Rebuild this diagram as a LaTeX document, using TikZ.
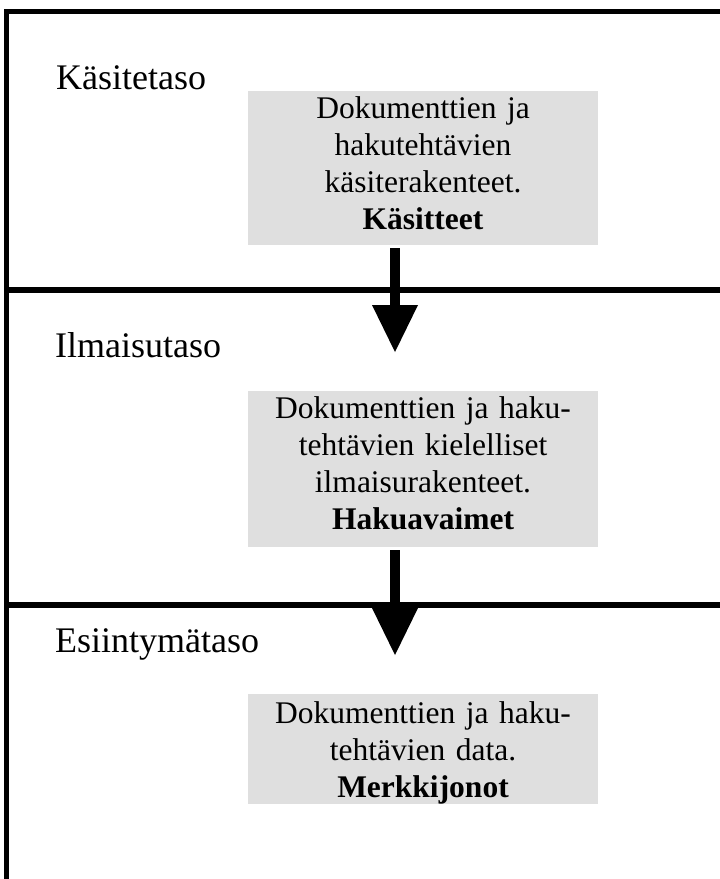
\documentclass[tikz,border=0pt]{standalone}
\usepackage{fontspec}
\setmainfont{Liberation Serif}
\usetikzlibrary{arrows.meta}
\definecolor{boxgray}{RGB}{223,223,223}
\tikzset{
  levelbox/.style={fill=boxgray, draw=none, inner sep=0pt, minimum width=350pt},
  boxtext/.style={anchor=base, inner sep=0pt, text width=350pt, align=center,
    font=\fontsize{31.5}{37}\selectfont},
  levellabel/.style={anchor=base west, inner sep=0pt, font=\fontsize{36}{40}\selectfont},
  frameline/.style={line width=5pt, line join=miter},
  divider/.style={line width=6pt},
  bigarrow/.style={line width=10pt, -{Triangle[width=46pt,length=47pt,line width=0pt]}}
}
\begin{document}
\begin{tikzpicture}[x=1pt,y=-1pt]
\useasboundingbox (0,0) rectangle (720,879);
% frame and dividers
\draw[frameline] (720,11.5) -- (6.5,11.5) -- (6.5,879);
\draw[divider] (6.5,290) -- (720,290);
\draw[divider] (6.5,605) -- (720,605);
% labels
\node[levellabel] (l1) at (56,89) {Käsitetaso};
\node[levellabel] (l2) at (55,357) {Ilmaisutaso};
\node[levellabel] (l3) at (55,652) {Esiintymätaso};
% boxes
\node[levelbox, minimum height=154pt] (b1) at (423,168) {};
\node[levelbox, minimum height=156pt] (b2) at (423,469) {};
\node[levelbox, minimum height=110pt] (b3) at (423,749) {};
\node[boxtext] (t1) at (423,118) {Dokumenttien ja\\hakutehtävien\\käsiterakenteet.\\\textbf{Käsitteet}};
\node[boxtext] (t2) at (423,418) {Dokumenttien ja haku-\\tehtävien kielelliset\\ilmaisurakenteet.\\\textbf{Hakuavaimet}};
\node[boxtext] (t3) at (423,723) {Dokumenttien ja haku-\\tehtävien data.\\\textbf{Merkkijonot}};
% arrows
\coordinate (tip1) at (395,352);
\coordinate (tip2) at (395,655);
\draw[bigarrow] (b1.south -| tip1) ++(0,3) -- (tip1);
\draw[bigarrow] (b2.south -| tip2) ++(0,3) -- (tip2);
\end{tikzpicture}
\end{document}
